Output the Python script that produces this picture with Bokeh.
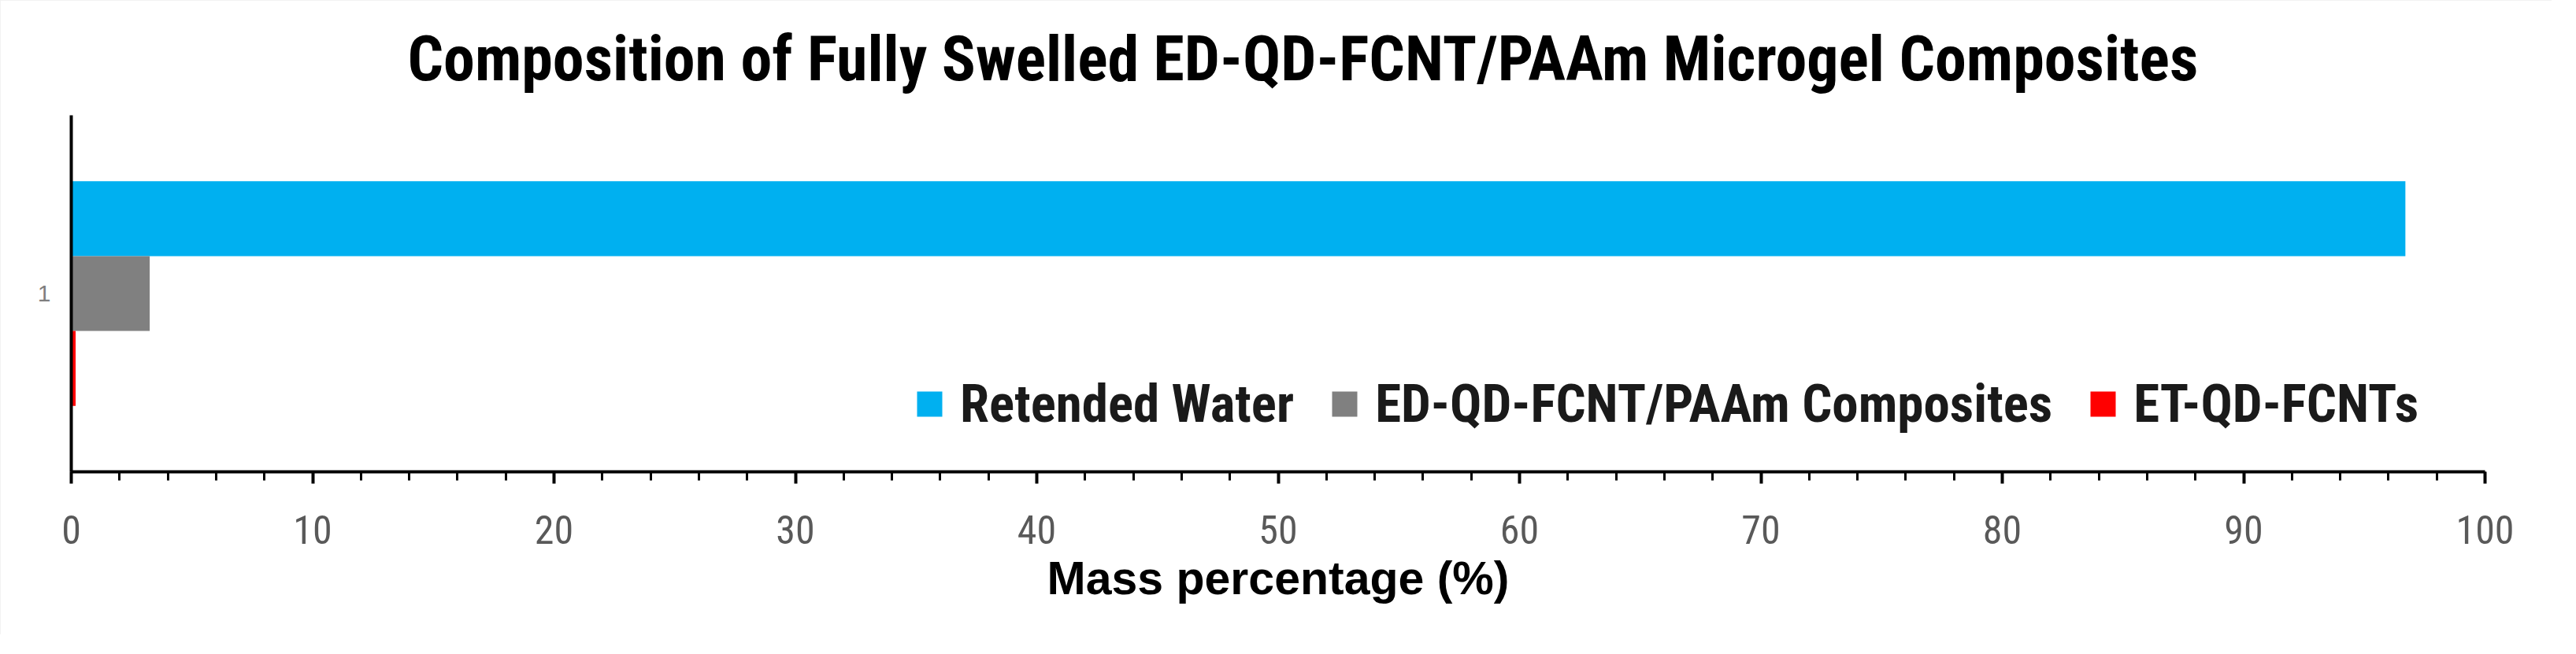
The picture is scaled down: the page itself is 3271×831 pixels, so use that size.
from bokeh.plotting import figure
from bokeh.models import ColumnDataSource, FactorRange, Range1d, Legend, LegendItem, FixedTicker
from bokeh.transform import dodge
from bokeh.embed import file_html
from bokeh.resources import INLINE

# ---- data ----
categories = ["1"]
series_names = ["Retended Water", "ED-QD-FCNT/PAAm Composites", "ET-QD-FCNTs"]
retended_water = [96.7]
composites = [3.25]
fcnts = [0.18]
x_tick_values = [0, 10, 20, 30, 40, 50, 60, 70, 80, 90, 100]
x_minor_values = list(range(0, 101, 2))
colors = ["#00B0F0", "#808080", "#FF0000"]

NARROW = "Roboto Condensed, Liberation Sans Narrow, DejaVu Sans Condensed, sans-serif"

source = ColumnDataSource(dict(cat=categories, water=retended_water,
                               comp=composites, fcnt=fcnts))

p = figure(width=3240, height=806,
           y_range=FactorRange(factors=categories),
           x_range=Range1d(0, 100),
           output_backend="svg", toolbar_location=None,
           min_border_left=90, min_border_right=85,
           min_border_top=139, min_border_bottom=207)

bh = 0.21
r1 = p.hbar(y=dodge("cat", bh, range=p.y_range), left=0, right="water", height=bh,
            source=source, fill_color=colors[0], line_color=None)
r2 = p.hbar(y=dodge("cat", 0.0, range=p.y_range), left=0, right="comp", height=bh,
            source=source, fill_color=colors[1], line_color=None)
r3 = p.hbar(y=dodge("cat", -bh, range=p.y_range), left=0, right="fcnt", height=bh,
            source=source, fill_color=colors[2], line_color=None)

legend = Legend(items=[LegendItem(label=series_names[0], renderers=[r1]),
                       LegendItem(label=series_names[1], renderers=[r2]),
                       LegendItem(label=series_names[2], renderers=[r3])],
                orientation="horizontal", location=(1070, 47),
                glyph_width=40, glyph_height=40, label_standoff=19, spacing=44,
                padding=0, margin=0, border_line_color=None, background_fill_alpha=0,
                label_text_font=NARROW, label_text_font_size="67px",
                label_text_font_style="bold", label_text_color="#1a1a1a")
p.add_layout(legend)

# title
p.title.text = "Composition of Fully Swelled ED-QD-FCNT/PAAm Microgel Composites"
p.title.align = "left"
p.title.offset = 427
p.title.text_font = NARROW
p.title.text_font_size = "80px"
p.title.text_font_style = "bold"
p.title.text_color = "black"
p.title.standoff = 50

# x axis
xa = p.xaxis[0]
xa.ticker = FixedTicker(ticks=x_tick_values, minor_ticks=x_minor_values)
xa.axis_line_width = 4
xa.axis_line_color = "black"
xa.major_tick_in = 0
xa.major_tick_out = 15
xa.major_tick_line_width = 4
xa.minor_tick_in = 0
xa.minor_tick_out = 11
xa.minor_tick_line_width = 3
xa.major_label_text_font = NARROW
xa.major_label_text_font_size = "50px"
xa.major_label_text_color = "#595959"
xa.major_label_standoff = 40
xa.axis_label = "Mass percentage (%)"
xa.axis_label_text_font = "Liberation Sans"
xa.axis_label_text_font_style = "bold"
xa.axis_label_text_font_size = "59px"
xa.axis_label_text_color = "black"
xa.axis_label_standoff = 8

# y axis
ya = p.yaxis[0]
ya.axis_line_width = 4
ya.axis_line_color = "black"
ya.major_tick_line_color = None
ya.minor_tick_line_color = None
ya.major_label_text_font_size = "30px"
ya.major_label_text_color = "#7f7f7f"
ya.major_label_standoff = 20

p.xgrid.visible = False
p.ygrid.visible = False
p.outline_line_color = None
p.background_fill_color = "white"
p.border_fill_color = "white"
p.styles = {"outline": "4px solid #efefef", "outline-offset": "-4px"}

open("out.html", "w").write(file_html(p, INLINE))
